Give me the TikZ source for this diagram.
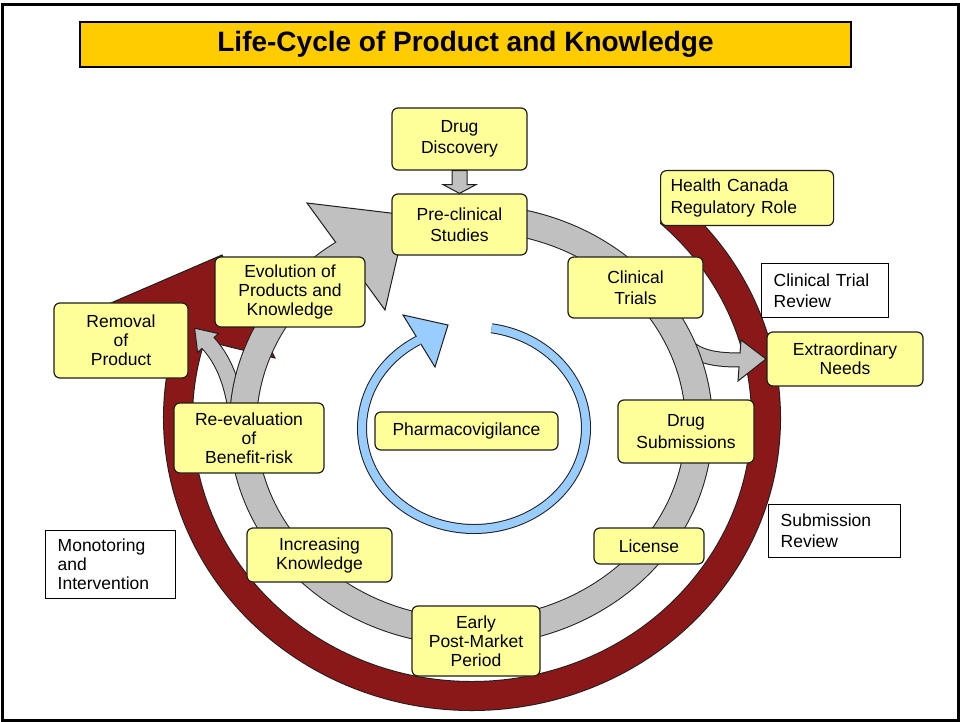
\documentclass[tikz,border=0pt]{standalone}
\usepackage{fontspec}
\setmainfont{Liberation Sans}
\usetikzlibrary{calc}
\definecolor{yfill}{RGB}{255,255,153}
\definecolor{tfill}{RGB}{255,204,0}
\definecolor{rband}{RGB}{139,24,24}
\definecolor{gband}{RGB}{192,192,192}
\definecolor{bband}{RGB}{153,204,255}
\definecolor{edgec}{RGB}{30,30,30}

\newcommand\redRing[2]{\draw[#1] ($(472,418)+(-52:294 and 278)$) arc[start angle=-52,end angle=#2,x radius=294,y radius=278];}
\newcommand\grayRing[2]{\draw[#1] ($(471,425)+(-80:228 and 207)$) arc[start angle=-80,end angle=#2,x radius=228,y radius=207];}
\newcommand\blueRing[2]{\draw[#1] ($(474,428)+(-81:112 and 101)$) arc[start angle=-81,end angle=#2,x radius=112,y radius=101];}
\newcommand\branchRem[2]{\draw[#1] (240,448) .. controls (237,395) and (228,365) .. (208,343) #2;}
\newcommand\branchExt[2]{\draw[#1] (676,330) .. controls (688,356) and (710,360) .. (740,360) #2;}

\begin{document}
\begin{tikzpicture}[x=1pt,y=-1pt,
  ybox/.style={draw=edgec, line width=1.2pt, fill=yfill, rounded corners=6pt, align=center, inner sep=0pt, font=\fontsize{17.5}{21.5}\selectfont},
  tight/.style={font=\fontsize{17.5}{19}\selectfont},
  wbox/.style={draw=black, line width=1.4pt, fill=white, align=left, inner ysep=0pt, inner xsep=12pt, font=\fontsize{17.5}{21}\selectfont},
  headshape/.style={draw=edgec, line width=1pt, line join=miter},
  ]
\useasboundingbox (0,0) rectangle (962,722);
\fill[white] (0,0) rectangle (962,722);
\draw[line width=3pt] (2,4.5) rectangle (958.5,720.5);

% title
\node[draw=black, line width=1.6pt, fill=tfill, minimum width=771pt, minimum height=45pt, inner sep=0pt, font=\fontsize{28}{32}\selectfont\bfseries] (title) at (465.5,44.5) {Life-Cycle of Product and Knowledge};

% red regulatory ring
\begin{scope}
  \clip (0,226) -- (660,226) -- (660,0) -- (962,0) -- (962,722) -- (0,722) -- cycle;
  \redRing{edgec, line width=30pt}{198}
  \redRing{rband, line width=28pt}{199}
  \fill[rband] (90,312) -- (222,255) -- (275,358) -- cycle;
  \draw[edgec, line width=1pt, line join=miter] (90,312) -- (222,255) -- (275,358) -- (207,341.3);
\end{scope}

% gray branches
\branchRem{edgec, line width=17pt}{}
\filldraw[fill=gband, headshape] (218.4,333.6) -- (194.6,328.2) -- (197.6,352.4) -- cycle;
\branchRem{gband, line width=15pt}{-- (206,340.8)}

\branchExt{edgec, line width=15pt}{}
\filldraw[fill=gband, headshape] (741,340) -- (766,359) -- (738,381) -- cycle;
\branchExt{gband, line width=13pt}{-- (743,360)}

% gray main cycle
\grayRing{edgec, line width=28pt}{236}
\filldraw[fill=gband, headshape] (307,203) -- (407,215) -- (385,310) -- cycle;
\grayRing{gband, line width=26pt}{238.5}

% blue pharmacovigilance cycle
\blueRing{edgec, line width=10pt}{240}
\filldraw[fill=bband, headshape] (403,315) -- (448,325) -- (435,367) -- cycle;
\blueRing{bband, line width=8pt}{242}

% boxes
\node[ybox, minimum width=135pt, minimum height=62pt] (dd) at (459.5,139) {Drug\\Discovery};
\node[ybox, minimum width=135pt, minimum height=61pt] (pc) at (459.5,224.5) {Pre-clinical\\Studies};
\node[ybox, align=left, text width=153pt, inner xsep=10pt, minimum height=55pt, anchor=north west] (hc) at (660,170) {Health Canada\\Regulatory Role};
\node[ybox, minimum width=135pt, minimum height=61pt] (ct) at (635.5,287.5) {Clinical\\Trials};
\node[wbox, text width=103pt, minimum height=54pt, anchor=north west] (ctr) at (761,263) {Clinical Trial\\Review};
\node[ybox, tight, minimum width=156pt, minimum height=54pt] (en) at (845,359) {Extraordinary\\Needs};
\node[ybox, tight, minimum width=150pt, minimum height=70pt] (evo) at (290,292) {Evolution of\\Products and\\Knowledge};
\node[ybox, tight, minimum width=134pt, minimum height=75pt] (rem) at (121,340.5) {Removal\\of\\Product};
\node[ybox, tight, minimum width=150pt, minimum height=70pt] (reev) at (249,438) {Re-evaluation\\of\\Benefit-risk};
\node[ybox, minimum width=183pt, minimum height=38pt] (pv) at (466.5,431) {Pharmacovigilance};
\node[ybox, minimum width=136pt, minimum height=63pt] (ds) at (686,431.5) {Drug\\Submissions};
\node[wbox, text width=108pt, minimum height=53pt, anchor=north west] (sr) at (768,504) {Submission\\Review};
\node[ybox, minimum width=110pt, minimum height=36pt] (lic) at (649,546) {License};
\node[wbox, tight, text width=106pt, minimum height=68pt, anchor=north west] (mon) at (45,530) {Monotoring\\and\\Intervention};
\node[ybox, tight, minimum width=145pt, minimum height=54pt] (ik) at (319.5,555) {Increasing\\Knowledge};
\node[ybox, tight, minimum width=128pt, minimum height=70pt] (epm) at (476,641) {Early\\Post-Market\\Period};

% Drug Discovery -> Pre-clinical block arrow
\filldraw[fill=gband, headshape] ($(dd.south)+(-7.5,0)$) -- ($(dd.south)+(7.5,0)$) -- ($(dd.south)+(7.5,14)$) -- ($(dd.south)+(16.5,14)$) -- (pc.north) -- ($(dd.south)+(-16.5,14)$) -- ($(dd.south)+(-7.5,14)$) -- cycle;
\end{tikzpicture}
\end{document}
